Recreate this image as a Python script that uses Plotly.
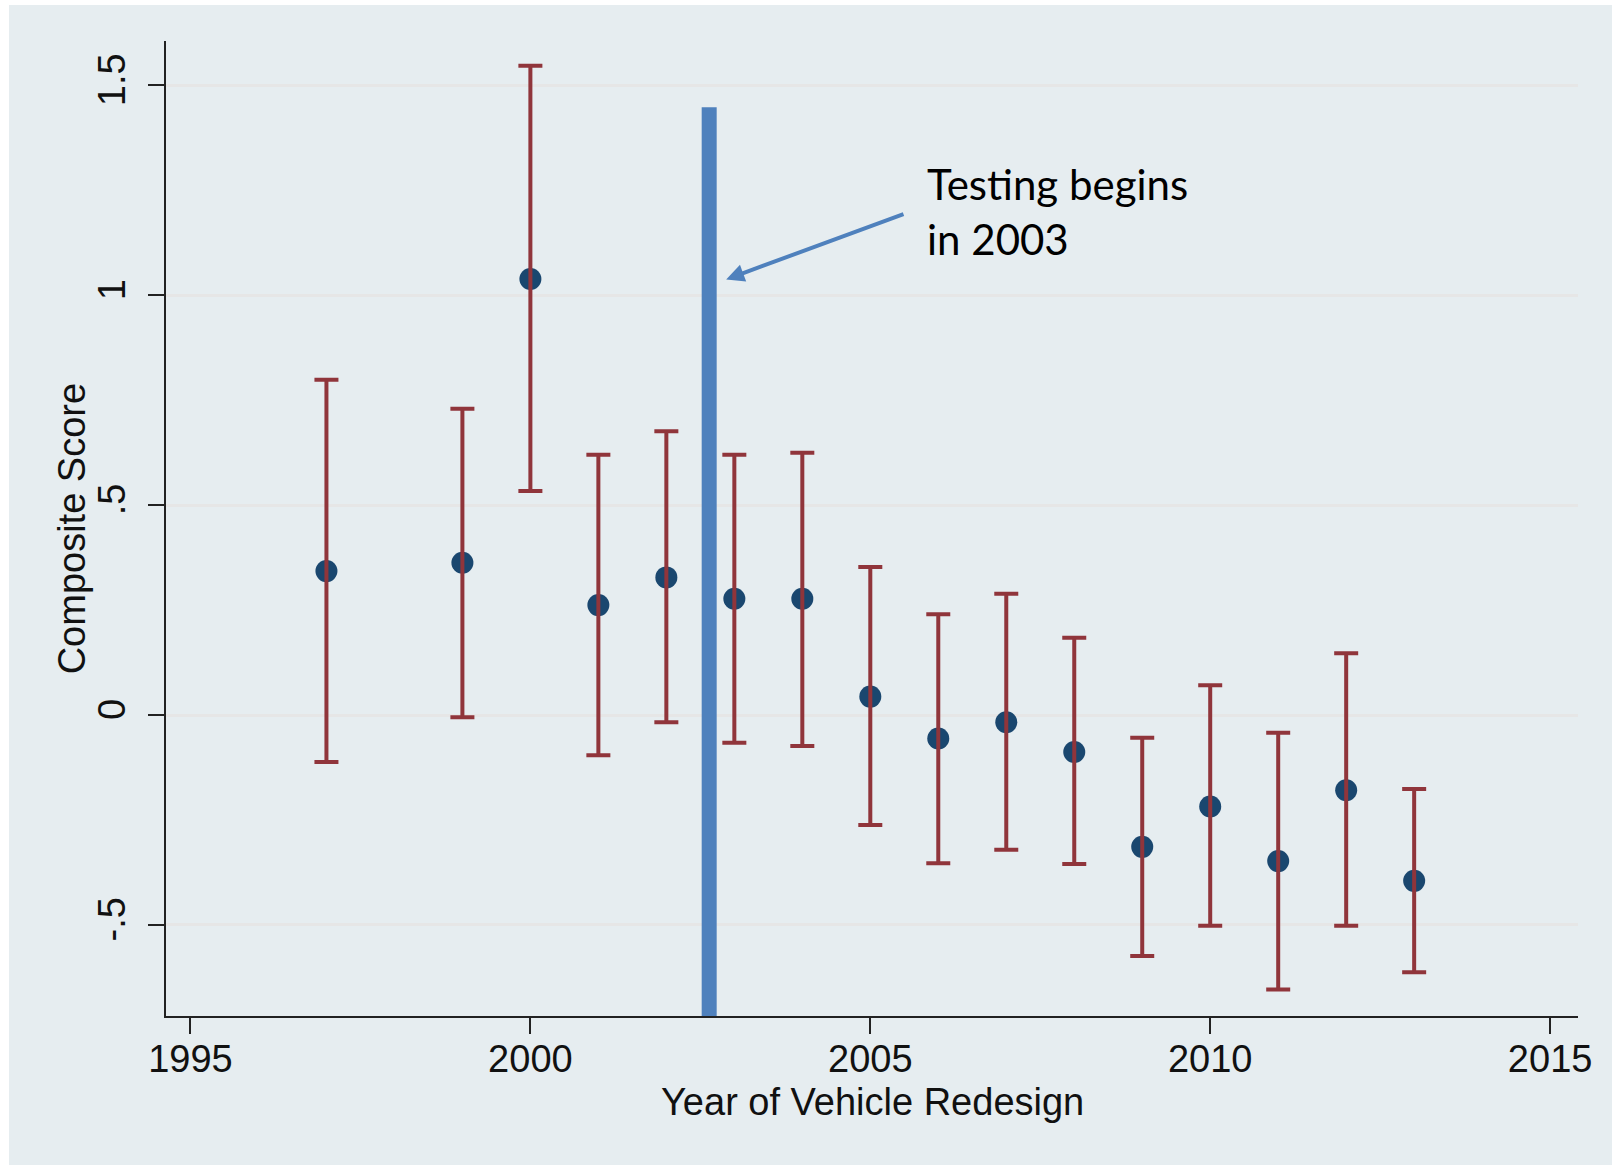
import plotly.graph_objects as go

# Composite score estimates by year of vehicle redesign, with 95% bounds
years = [1997, 1999, 2000, 2001, 2002, 2003, 2004, 2005, 2006, 2007, 2008,
         2009, 2010, 2011, 2012, 2013]
estimate = [0.343, 0.363, 1.039, 0.262, 0.328, 0.277, 0.277, 0.044, -0.056,
            -0.017, -0.088, -0.314, -0.218, -0.348, -0.179, -0.395]
upper = [0.799, 0.730, 1.547, 0.620, 0.676, 0.620, 0.625, 0.353, 0.240,
         0.289, 0.184, -0.054, 0.071, -0.042, 0.147, -0.176]
lower = [-0.112, -0.005, 0.534, -0.096, -0.017, -0.066, -0.074, -0.262,
         -0.353, -0.321, -0.355, -0.574, -0.502, -0.654, -0.502, -0.613]

y_tickvals = [-0.5, 0, 0.5, 1, 1.5]
y_ticktext = ["-.5", "0", ".5", "1", "1.5"]
x_tickvals = [1995, 2000, 2005, 2010, 2015]

x_title = "Year of Vehicle Redesign"
y_title = "Composite Score"

# Policy marker: testing starts just before the 2003 redesigns
testing_start = 2002.63
rule_top = 1.448
note_text = "Testing begins<br>in 2003"

x_range = [1994.64, 2015.41]
y_range = [-0.717, 1.606]

navy = "#1a476f"
maroon = "#90353b"
office_blue = "#4f81bd"
axis_font = dict(family="Liberation Sans, Arial, sans-serif", size=38, color="#111111")

err_plus = [u - e for u, e in zip(upper, estimate)]
err_minus = [e - l for e, l in zip(estimate, lower)]

fig = go.Figure()

# Point estimates
fig.add_trace(go.Scatter(
    x=years, y=estimate, mode="markers",
    marker=dict(color=navy, size=22, line=dict(width=0)),
    showlegend=False, hoverinfo="skip",
))

# Capped interval spikes drawn over the dots
fig.add_trace(go.Scatter(
    x=years, y=estimate, mode="markers",
    marker=dict(color="rgba(0,0,0,0)", size=1),
    error_y=dict(type="data", symmetric=False, array=err_plus,
                 arrayminus=err_minus, color=maroon, thickness=4, width=12),
    showlegend=False, hoverinfo="skip",
))

# Graph region background with a thin white edge on the left and top
fig.add_shape(type="rect", xref="paper", yref="paper",
              x0=-0.1112, x1=1.05, y0=-0.25, y1=1.0369,
              fillcolor="#e6edf0", line=dict(width=0), layer="below")

# Vertical rule marking the start of testing
fig.add_shape(type="line", xref="x", yref="y",
              x0=testing_start, x1=testing_start, y0=y_range[0], y1=rule_top,
              line=dict(color=office_blue, width=15))

# Arrow from the note to the rule
fig.add_annotation(x=2002.88, y=1.038, ax=2005.51, ay=1.195,
                   xref="x", yref="y", axref="x", ayref="y",
                   text="", showarrow=True, arrowhead=2, arrowsize=0.9,
                   arrowwidth=4, arrowcolor=office_blue)

fig.add_annotation(x=2005.81, y=1.20, xref="x", yref="y",
                   text=note_text, showarrow=False, align="left",
                   xanchor="left", yanchor="middle",
                   font=dict(family="Lato, Carlito, sans-serif", size=42, color="#000000"))

# Axis titles
fig.add_annotation(x=0.5, y=-0.0882, xref="paper", yref="paper",
                   text=x_title, showarrow=False,
                   xanchor="center", yanchor="middle", font=axis_font)
fig.add_annotation(x=-0.0667, y=0.5, xref="paper", yref="paper",
                   text=y_title, showarrow=False, textangle=-90,
                   xanchor="center", yanchor="middle", font=axis_font)

fig.update_layout(
    width=1612, height=1165,
    margin=dict(l=166, r=34, t=41, b=149),
    paper_bgcolor="#ffffff",
    plot_bgcolor="#ffffff",
    font=axis_font,
)

fig.update_xaxes(
    range=x_range, tickvals=x_tickvals,
    showgrid=False, zeroline=False,
    showline=True, linecolor="#222222", linewidth=2,
    ticks="outside", ticklen=16, tickwidth=1.5, tickcolor="#222222",
    tickfont=axis_font, ticklabelstandoff=-8,
)

fig.update_yaxes(
    range=y_range, tickvals=y_tickvals, ticktext=y_ticktext, tickangle=-90,
    showgrid=True, gridcolor="#e6e6e6", gridwidth=3, zeroline=False,
    showline=True, linecolor="#222222", linewidth=2,
    ticks="outside", ticklen=16, tickwidth=1.5, tickcolor="#222222",
    tickfont=axis_font, ticklabelstandoff=8,
)

fig.write_html("out.html")
